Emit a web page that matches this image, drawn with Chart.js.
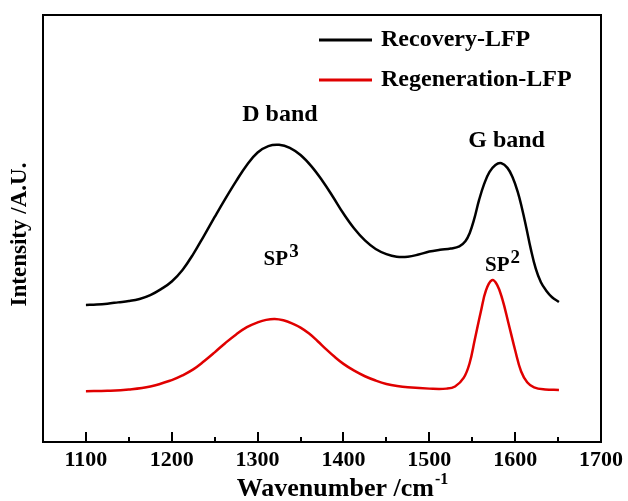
<!DOCTYPE html>
<html>
<head>
<meta charset="utf-8">
<script src="https://cdn.jsdelivr.net/npm/chart.js@4/dist/chart.umd.min.js"></script>
<style>
  html, body { margin: 0; padding: 0; background: #fff; }
  #wrap { width: 628px; height: 501px; }
</style>
</head>
<body>
<div id="wrap"><canvas id="raman" width="628" height="501"></canvas></div>
<script>
// Raman spectra, values (arbitrary intensity units 0-100)
const recoveryX = [1100, 1112.5, 1125, 1137.5, 1150, 1162.5, 1175, 1187.5, 1200, 1212.5, 1225, 1237.5, 1250, 1262.5, 1275, 1287.5, 1300, 1312.5, 1325, 1337.5, 1350, 1362.5, 1375, 1387.5, 1400, 1412.5, 1425, 1437.5, 1450, 1462, 1475, 1487.5, 1500, 1512.5, 1525, 1535, 1542, 1547, 1552, 1558, 1564, 1570, 1577, 1584, 1591, 1597, 1603, 1608, 1613, 1618, 1624, 1630, 1636, 1643, 1651];
const recoveryY = [32.1, 32.2, 32.4, 32.7, 33.0, 33.5, 34.4, 35.8, 37.6, 40.3, 44.0, 48.3, 52.7, 57.0, 61.1, 64.9, 67.8, 69.3, 69.6, 68.9, 67.2, 64.6, 61.3, 57.5, 53.5, 50.0, 47.2, 45.2, 44.0, 43.4, 43.4, 43.9, 44.6, 45.0, 45.3, 45.8, 47.0, 48.9, 52.0, 56.7, 60.5, 63.2, 64.9, 65.3, 64.2, 62.0, 58.6, 54.7, 50.2, 45.4, 40.6, 37.4, 35.5, 33.9, 32.8];

const regenX = [1100, 1125, 1150, 1175, 1200, 1212.5, 1225, 1237.5, 1250, 1262.5, 1275, 1287.5, 1300, 1310, 1320, 1330, 1340, 1350, 1360, 1370, 1380, 1390, 1400, 1412.5, 1425, 1437.5, 1450, 1462.5, 1475, 1500, 1520, 1530, 1540, 1547, 1553, 1560, 1566, 1573, 1579, 1585, 1592, 1600, 1607, 1614, 1622, 1635, 1651];
const regenY = [11.9, 12.0, 12.3, 13.0, 14.5, 15.6, 17.0, 18.9, 21.0, 23.2, 25.2, 26.9, 28.0, 28.6, 28.8, 28.5, 27.8, 26.8, 25.4, 23.6, 21.7, 19.9, 18.3, 16.7, 15.4, 14.4, 13.6, 13.1, 12.8, 12.5, 12.5, 13.0, 15.0, 18.5, 24.0, 30.5, 35.5, 37.9, 36.8, 33.5, 28.0, 21.5, 16.5, 14.0, 12.8, 12.3, 12.2];

const majorTicks = [1100, 1200, 1300, 1400, 1500, 1600, 1700];
const minorTicks = [1150, 1250, 1350, 1450, 1550, 1650];

// peak labels: [text, superscript, x (cm-1), y (intensity)]
const bandLabels = [
  ['D band', '', 1326, 77],
  ['G band', '', 1590, 71],
  ['SP', '3', 1307, 41.5],
  ['SP', '2', 1565, 40]
];

const serif = "'Liberation Serif', 'Times New Roman', serif";

function toPoints(xs, ys) {
  return xs.map((x, i) => ({ x: x, y: ys[i] }));
}

const decorations = {
  id: 'decorations',
  afterDraw(chart) {
    const ctx = chart.ctx;
    const area = chart.chartArea;
    const xs = chart.scales.x;
    const ys = chart.scales.y;
    ctx.save();

    // frame
    ctx.strokeStyle = '#000';
    ctx.lineWidth = 2;
    ctx.strokeRect(area.left, area.top, area.right - area.left, area.bottom - area.top);

    // inward ticks on the bottom axis
    majorTicks.forEach(v => {
      const px = Math.round(xs.getPixelForValue(v));
      ctx.beginPath();
      ctx.moveTo(px, area.bottom);
      ctx.lineTo(px, area.bottom - 10);
      ctx.stroke();
    });
    minorTicks.forEach(v => {
      const px = Math.round(xs.getPixelForValue(v));
      ctx.beginPath();
      ctx.moveTo(px, area.bottom);
      ctx.lineTo(px, area.bottom - 5);
      ctx.stroke();
    });

    // legend inside the plot
    chart.data.datasets.forEach((ds, i) => {
      const y = 40 + i * 40;
      ctx.strokeStyle = ds.borderColor;
      ctx.lineWidth = 3;
      ctx.beginPath();
      ctx.moveTo(319, y);
      ctx.lineTo(372, y);
      ctx.stroke();
      ctx.fillStyle = '#000';
      ctx.font = 'bold 24px ' + serif;
      ctx.textAlign = 'left';
      ctx.textBaseline = 'middle';
      ctx.fillText(ds.label, 381, y);
    });

    // band labels
    ctx.fillStyle = '#000';
    ctx.textBaseline = 'alphabetic';
    bandLabels.forEach(([txt, sup, xv, yv]) => {
      const px = xs.getPixelForValue(xv);
      const py = ys.getPixelForValue(yv);
      if (!sup) {
        ctx.font = 'bold 24px ' + serif;
        ctx.textAlign = 'center';
        ctx.fillText(txt, px, py + 8);
      } else {
        ctx.font = 'bold 21px ' + serif;
        ctx.textAlign = 'left';
        ctx.fillText(txt, px, py);
        const w = ctx.measureText(txt).width;
        ctx.font = 'bold 19px ' + serif;
        ctx.fillText(sup, px + w + 1, py - 8);
      }
    });

    // x axis title with superscript
    ctx.font = 'bold 26px ' + serif;
    const main = 'Wavenumber /cm';
    const mw = ctx.measureText(main).width;
    ctx.font = 'bold 16px ' + serif;
    const sw = ctx.measureText('-1').width;
    const startX = (area.left + area.right) / 2 + 20 - (mw + sw) / 2;
    ctx.textAlign = 'left';
    ctx.font = 'bold 26px ' + serif;
    ctx.fillText(main, startX, 496);
    ctx.font = 'bold 16px ' + serif;
    ctx.fillText('-1', startX + mw + 1, 484);

    // y axis title
    ctx.translate(20, (area.top + area.bottom) / 2 + 6);
    ctx.rotate(-Math.PI / 2);
    ctx.font = 'bold 23px ' + serif;
    ctx.textAlign = 'center';
    ctx.textBaseline = 'middle';
    ctx.fillText('Intensity /A.U.', 0, 0);

    ctx.restore();
  }
};

new Chart(document.getElementById('raman'), {
  type: 'line',
  data: {
    datasets: [
      {
        label: 'Recovery-LFP',
        data: toPoints(recoveryX, recoveryY),
        borderColor: '#000000',
        borderWidth: 2.5,
        pointRadius: 0,
        fill: false,
        tension: 0.4
      },
      {
        label: 'Regeneration-LFP',
        data: toPoints(regenX, regenY),
        borderColor: '#e00000',
        borderWidth: 2.5,
        pointRadius: 0,
        fill: false,
        tension: 0.4
      }
    ]
  },
  options: {
    responsive: false,
    animation: false,
    layout: { padding: { top: 15, right: 25, left: 0, bottom: 0 } },
    plugins: {
      legend: { display: false },
      tooltip: { enabled: false }
    },
    scales: {
      x: {
        type: 'linear',
        min: 1050,
        max: 1700,
        grid: { display: false, drawTicks: false },
        border: { display: false },
        afterBuildTicks: function(scale) {
          scale.ticks = majorTicks.map(v => ({ value: v }));
        },
        afterFit: function(scale) {
          scale.height = 59;
        },
        ticks: {
          color: '#000',
          padding: 5,
          maxRotation: 0,
          autoSkip: false,
          font: { family: serif, size: 22, weight: 'bold' },
          callback: function(value) {
            return String(value);
          }
        }
      },
      y: {
        min: 0,
        max: 100,
        grid: { display: false, drawTicks: false },
        border: { display: false },
        ticks: { display: false },
        afterFit: function(scale) {
          scale.width = 43;
        }
      }
    }
  },
  plugins: [decorations]
});
</script>
</body>
</html>
